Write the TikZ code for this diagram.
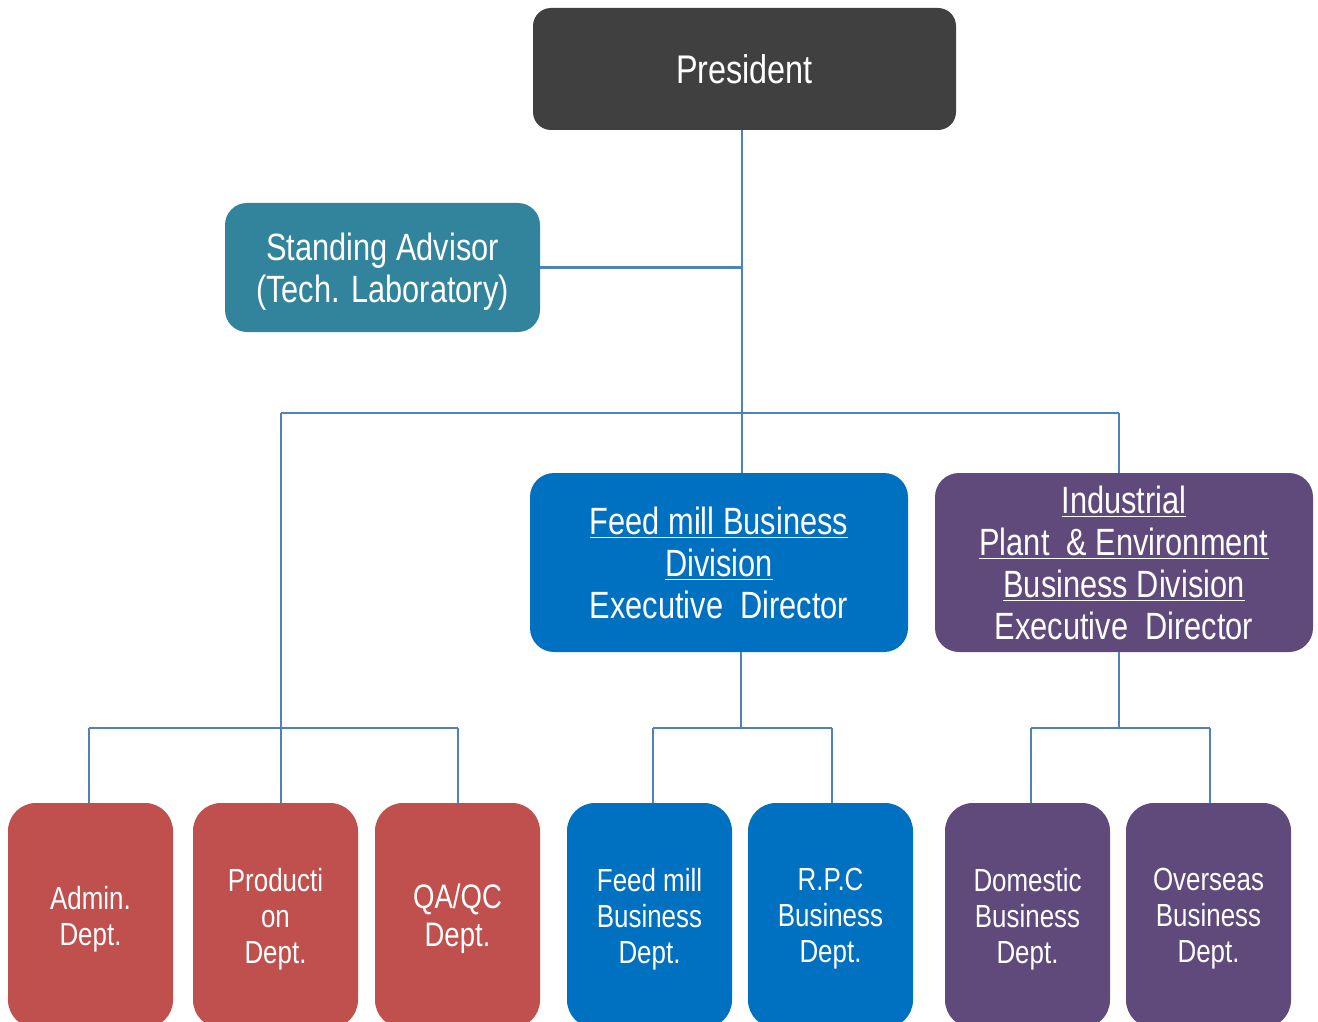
\documentclass[tikz,border=0pt]{standalone}
\usepackage{fontspec}
\setmainfont{Liberation Sans}[FakeStretch=0.81]
\usepackage{tikz}
\usetikzlibrary{positioning}

\definecolor{presgray}{HTML}{404040}
\definecolor{advteal}{HTML}{31849B}
\definecolor{feedblue}{HTML}{0070C0}
\definecolor{indpurple}{HTML}{604A7B}
\definecolor{deptred}{HTML}{C0504D}
\definecolor{linkblue}{HTML}{4F81BD}

\tikzset{
  box/.style = {rectangle, text = white, align = center, inner sep = 0pt, text depth = 0pt},
  topbox/.style = {box, font = \fontsize{19}{21}\selectfont},
  deptbox/.style = {box, minimum width = 82.5pt, minimum height = 112.5pt,
                    rounded corners = 14pt, font = \fontsize{16}{18}\selectfont},
  divbox/.style = {topbox, minimum width = 189pt, minimum height = 89.5pt, rounded corners = 12pt},
  link/.style = {draw = linkblue, line width = 1.2pt}
}

\begin{document}
\begin{tikzpicture}[x = 0.5pt, y = -0.5pt]
\useasboundingbox (0, 0) rectangle (1318, 1022);
\clip (0, 0) rectangle (1318, 1022);

\node (pres) at (744.5, 69) [topbox, fill = presgray, minimum width = 211.5pt, minimum height = 61pt,
  rounded corners = 9pt, font = \fontsize{20}{22}\selectfont] {President};
\node (adv) at (382.5, 267.5) [topbox, fill = advteal, minimum width = 157.5pt, minimum height = 64.5pt,
  rounded corners = 11pt] {Standing Advisor\\(Tech. Laboratory)};

\node (feeddiv) at (719, 562.5) [divbox, fill = feedblue]
  {\underline{Feed mill Business}\\\underline{Division}\\Executive~~Director};
\node (inddiv) at (1124, 562.5) [divbox, fill = indpurple]
  {\underline{Industrial}\\\underline{Plant~~\& Environment}\\\underline{Business Division}\\Executive~~Director};

% departments
\node (admin) at (90.5, 915.5) [deptbox, fill = deptred] {Admin.\\Dept.};
\node (prod) at (275.5, 915.5) [deptbox, fill = deptred] {Producti\\on\\Dept.};
\node (qaqc) at (457.5, 915.5) [deptbox, fill = deptred, font = \fontsize{17}{19}\selectfont] {QA/QC\\Dept.};
\node (feeddept) at (649.5, 915.5) [deptbox, fill = feedblue] {Feed mill\\Business\\Dept.};
\node (rpc) at (830.5, 915.5) [deptbox, fill = feedblue] {R.P.C\\Business\\Dept.};
\node (dom) at (1027.5, 915.5) [deptbox, fill = indpurple] {Domestic\\Business\\Dept.};
\node (over) at (1208.5, 915.5) [deptbox, fill = indpurple] {Overseas\\Business\\Dept.};

\coordinate (busL) at (281, 413);
\coordinate (busM) at (742, 413);
\coordinate (busR) at (1119, 413);
\coordinate (redL) at (89, 728);
\coordinate (redR) at (458, 728);
\coordinate (blueL) at (653, 728);
\coordinate (blueM) at (741, 728);
\coordinate (blueR) at (832, 728);
\coordinate (purL) at (1031, 728);
\coordinate (purM) at (1119, 728);
\coordinate (purR) at (1210, 728);

\draw[link] (pres.south -| busM) to (busM);
\draw[link] (adv.east) to (adv.east -| busM);
\draw[link] (busL) to (busR);
\draw[link] (busM) to (busM |- feeddiv.north);
\draw[link] (busR) to (busR |- inddiv.north);

\draw[link] (busL) to (busL |- prod.north);
\draw[link] (redL) to (redR);
\draw[link] (redL) to (redL |- admin.north);
\draw[link] (redR) to (redR |- qaqc.north);

\draw[link] (blueM |- feeddiv.south) to (blueM);
\draw[link] (blueL) to (blueR);
\draw[link] (blueL) to (blueL |- feeddept.north);
\draw[link] (blueR) to (blueR |- rpc.north);

\draw[link] (purM |- inddiv.south) to (purM);
\draw[link] (purL) to (purR);
\draw[link] (purL) to (purL |- dom.north);
\draw[link] (purR) to (purR |- over.north);
\end{tikzpicture}
\end{document}
